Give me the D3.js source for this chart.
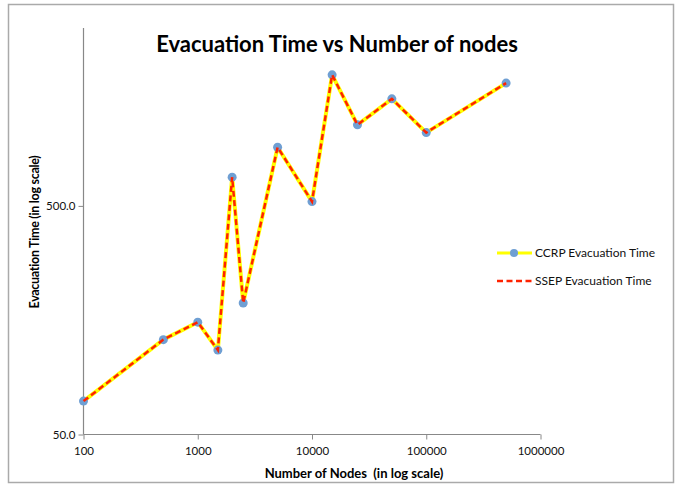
<!DOCTYPE html>
<html><head><meta charset="utf-8">
<script src="https://cdn.jsdelivr.net/npm/d3@7"></script>
<style>body{margin:0;background:#fff}svg{display:block}text{font-family:Lato,"Open Sans",sans-serif}</style>
</head><body><svg id="c" width="678" height="487"></svg>
<script>
const nodes = [100, 500, 1000, 1500, 2000, 2500, 5000, 10000, 15000, 25000, 50000, 100000, 500000];
const ccrp = [70, 130, 155, 117, 668, 188, 903, 522, 1872, 1131, 1470, 1046, 1722];
const ssep = [70, 130, 155, 117, 668, 188, 903, 522, 1872, 1131, 1470, 1046, 1722];
const xTicks = [100, 1000, 10000, 100000, 1000000];
const yTicks = [50, 500];
const seriesNames = ["CCRP Evacuation Time", "SSEP Evacuation Time"];

const svg = d3.select("#c");
svg.append("rect").attr("x",8.5).attr("y",4.5).attr("width",665).attr("height",478)
  .attr("fill","#fff").attr("stroke","#aaa").attr("stroke-width",1.5);

const x = d3.scaleLog().domain([100,1000000]).range([83.5,540.5]);
const y = d3.scaleLog().domain([50,3000]).range([434.5,28]);

const gx = svg.append("g").attr("transform","translate(0,434.5)")
  .call(d3.axisBottom(x).tickValues(xTicks).tickFormat(d3.format("d")).tickSize(5).tickPadding(7));
const gy = svg.append("g").attr("transform","translate(83.5,0)")
  .call(d3.axisLeft(y).tickValues(yTicks).tickFormat(d3.format(".1f")).tickSize(5).tickPadding(3));
[gx,gy].forEach(g=>{
  g.select(".domain").attr("stroke","#888").attr("stroke-width",1.2);
  g.selectAll(".tick line").attr("stroke","#888");
  g.selectAll(".tick text").attr("fill","#111").style("font-size","11.5px").style("font-family","Lato,sans-serif");
});
gy.select(".domain").attr("d","M0,28V434.5");
gx.select(".domain").attr("d","M83.5,0H540.5");

const line = d3.line().x((d,i)=>x(nodes[i])).y(d=>y(d));
svg.append("path").datum(ccrp).attr("d",line).attr("fill","none")
  .attr("stroke","#FFFF00").attr("stroke-width",4).attr("stroke-linejoin","round");
svg.selectAll(".m").data(ccrp).enter().append("circle")
  .attr("cx",(d,i)=>x(nodes[i])).attr("cy",d=>y(d)).attr("r",4.5).attr("fill","#6f9fd3");
svg.append("path").datum(ssep).attr("d",line).attr("fill","none")
  .attr("stroke","#FF2200").attr("stroke-width",2.5).attr("stroke-dasharray","6,3.5");

svg.append("text").attr("x",337).attr("y",52).attr("text-anchor","middle")
  .style("font-size","22px").style("font-weight","bold").attr("fill","#000")
  .text("Evacuation Time vs Number of nodes");
svg.append("text").attr("x",354).attr("y",478).attr("text-anchor","middle")
  .style("font-size","13px").style("font-weight","bold").style("white-space","pre").attr("fill","#000")
  .text("Number of Nodes  (in log scale)");
svg.append("text").attr("transform","translate(39,232) rotate(-90)").attr("text-anchor","middle")
  .style("font-size","12.5px").style("font-weight","bold").attr("fill","#000").style("letter-spacing","-0.3px")
  .text("Evacuation Time (in log scale)");

const lg = svg.append("g");
lg.append("line").attr("x1",497).attr("x2",532).attr("y1",253).attr("y2",253).attr("stroke","#FFFF00").attr("stroke-width",3);
lg.append("circle").attr("cx",514).attr("cy",253).attr("r",4).attr("fill","#6f9fd3");
lg.append("line").attr("x1",497).attr("x2",532).attr("y1",281).attr("y2",281).attr("stroke","#FF2200").attr("stroke-width",2.5).attr("stroke-dasharray","6,3.5");
lg.selectAll("text.l").data(seriesNames).enter().append("text")
  .attr("x",535).attr("y",(d,i)=>257+i*28).style("font-size","12px").attr("fill","#111").text(d=>d);
</script></body></html>
